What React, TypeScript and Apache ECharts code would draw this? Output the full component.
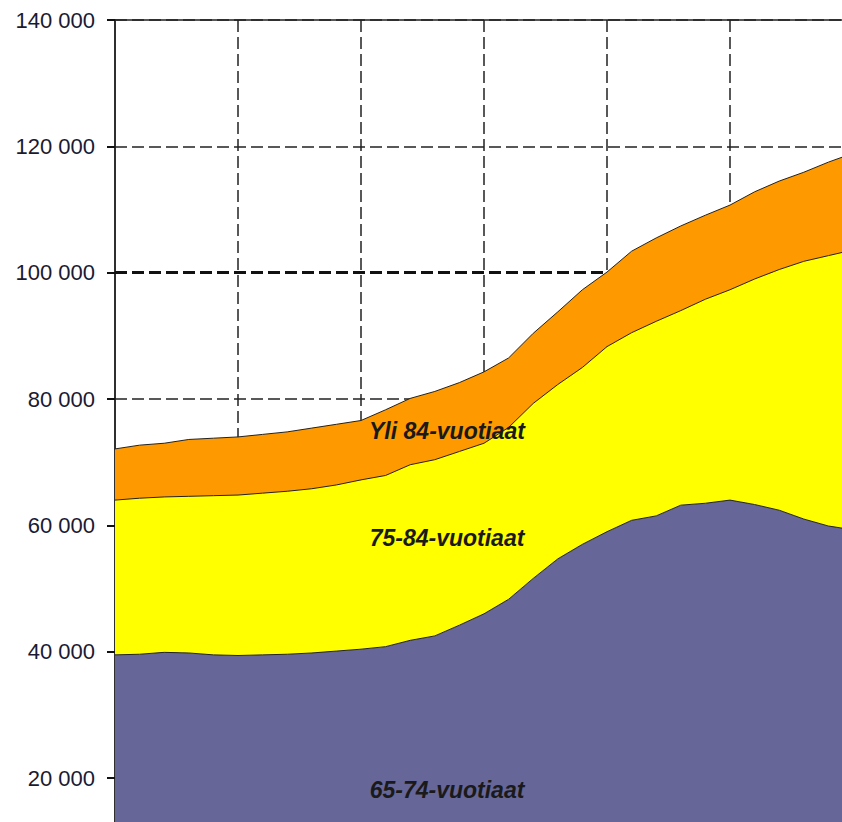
import React, { useEffect, useRef } from "react";
import * as echarts from "echarts";

const years = [
  "2010", "2011", "2012", "2013", "2014", "2015", "2016", "2017", "2018", "2019",
  "2020", "2021", "2022", "2023", "2024", "2025", "2026", "2027", "2028", "2029",
  "2030", "2031", "2032", "2033", "2034", "2035", "2036", "2037", "2038", "2039",
  "2040",
];

const age65to74 = [
  39500, 39600, 39900, 39800, 39500, 39400, 39500, 39600, 39800, 40100,
  40400, 40800, 41800, 42500, 44200, 46000, 48300, 51600, 54700, 57000,
  59000, 60800, 61500, 63200, 63500, 64000, 63300, 62400, 61000, 59900,
  59300,
];

const age75to84 = [
  24500, 24700, 24600, 24800, 25200, 25400, 25600, 25800, 26000, 26300,
  26800, 27100, 27800, 27900, 27500, 27000, 27200, 27700, 27600, 28000,
  29300, 29700, 30800, 30800, 32300, 33300, 35700, 38100, 40800, 42800,
  44300,
];

const age85plus = [
  8100, 8400, 8500, 9000, 9100, 9200, 9300, 9400, 9600, 9600,
  9400, 10400, 10500, 10800, 10900, 11300, 11000, 11100, 11500, 12300,
  11800, 12900, 13200, 13400, 13300, 13400, 13800, 14000, 14100, 14800,
  15300,
];

const seriesNames = ["65-74-vuotiaat", "75-84-vuotiaat", "Yli 84-vuotiaat"];
const seriesColors = ["#666699", "#ffff00", "#ff9900"];
const yMin = 0;
const yMax = 140000;
const yStep = 20000;
const highlightLine = 100000;

const fmt = (v: number) => (v === 0 ? "" : String(v).replace(/\B(?=(\d{3})+(?!\d))/g, " "));

export default function App() {
  const ref = useRef<HTMLDivElement>(null);

  useEffect(() => {
    if (!ref.current) return;
    const chart = echarts.init(ref.current, undefined, { renderer: "svg" });
    const dash = [12, 5];
    const labelFont = 'italic bold 23px "Liberation Sans", Arial, sans-serif';
    const mkSeries = (name: string, data: number[], color: string, extra: any = {}) => ({
      name,
      type: "line",
      stack: "total",
      data,
      symbol: "none",
      smooth: false,
      lineStyle: { color: "#222", width: 1 },
      areaStyle: { color, opacity: 1 },
      itemStyle: { color },
      z: 2,
      ...extra,
    });
    chart.setOption({
      animation: false,
      backgroundColor: "#ffffff",
      grid: {
        left: 115,
        top: 20,
        width: 738,
        height: 884.4,
        show: true,
        borderColor: "#222",
        borderWidth: 1.5,
        backgroundColor: "transparent",
      },
      xAxis: {
        type: "category",
        data: years,
        boundaryGap: false,
        axisLine: { show: false },
        axisTick: { show: false },
        axisLabel: { show: false },
        splitLine: {
          show: true,
          interval: (i: number) => i % 5 === 0 && i > 0,
          lineStyle: { color: "#222", width: 1.5, type: dash },
        },
      },
      yAxis: {
        type: "value",
        min: yMin,
        max: yMax,
        interval: yStep,
        axisLine: { show: true, lineStyle: { color: "#222", width: 1.5 } },
        axisTick: { show: true, inside: false, length: 8, lineStyle: { color: "#111", width: 2 } },
        axisLabel: {
          margin: 20,
          color: "#1a1a33",
          fontSize: 22,
          fontFamily: '"Liberation Sans", Arial, sans-serif',
          formatter: (v: number) => fmt(v),
        },
        splitLine: { show: true, lineStyle: { color: "#222", width: 1.5, type: dash } },
      },
      series: [
        mkSeries(seriesNames[0], age65to74, seriesColors[0], {
          markLine: {
            z: 1,
            silent: true,
            symbol: ["none", "none"],
            label: { show: false },
            lineStyle: { color: "#111", width: 3, type: dash },
            data: [{ yAxis: highlightLine }],
          },
        }),
        mkSeries(seriesNames[1], age75to84, seriesColors[1]),
        mkSeries(seriesNames[2], age85plus, seriesColors[2]),
      ],
      graphic: [
        {
          type: "text",
          x: 447,
          y: 431,
          z: 100,
          style: { text: seriesNames[2], font: labelFont, fill: "#1a1a1a", textAlign: "center", textVerticalAlign: "middle" },
        },
        {
          type: "text",
          x: 447,
          y: 538,
          z: 100,
          style: { text: seriesNames[1], font: labelFont, fill: "#1a1a1a", textAlign: "center", textVerticalAlign: "middle" },
        },
        {
          type: "text",
          x: 447,
          y: 790,
          z: 100,
          style: { text: seriesNames[0], font: labelFont, fill: "#1a1a1a", textAlign: "center", textVerticalAlign: "middle" },
        },
      ],
    });
    return () => chart.dispose();
  }, []);

  return (
    <div
      style={{
        position: "fixed",
        left: 0,
        top: 0,
        width: 842,
        height: 822,
        overflow: "hidden",
        background: "#fff",
      }}
    >
      <div ref={ref} style={{ width: 900, height: 960 }} />
    </div>
  );
}
